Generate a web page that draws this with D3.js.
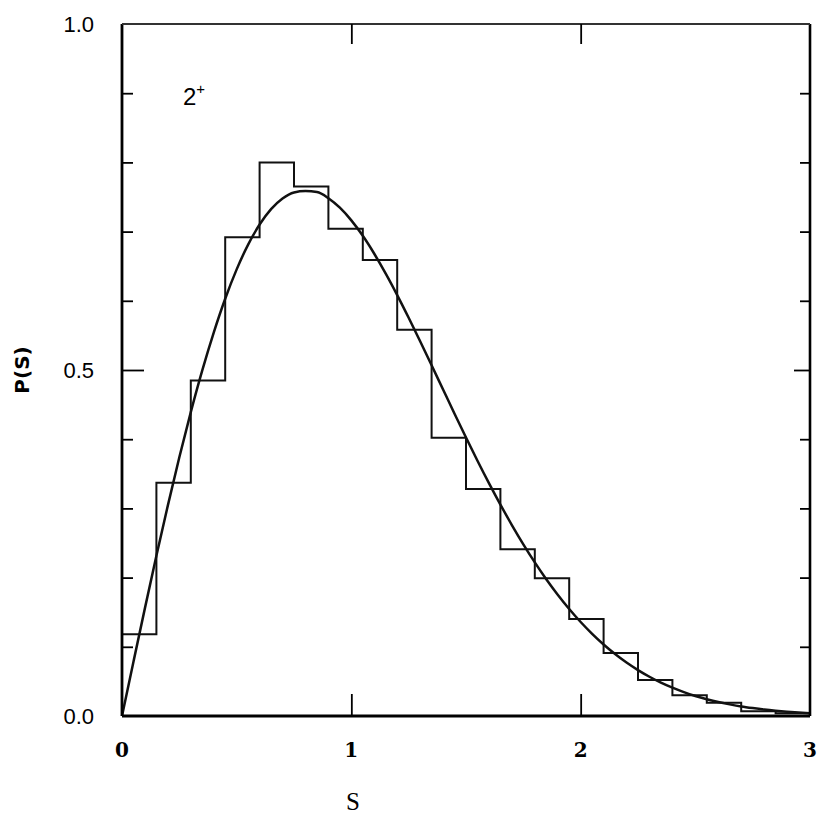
<!DOCTYPE html>
<html>
<head>
<meta charset="utf-8">
<script src="https://cdn.jsdelivr.net/npm/d3@7"></script>
<style>
  html, body { margin: 0; padding: 0; background: #fff; }
  svg { display: block; }
</style>
</head>
<body>
<svg id="chart" width="830" height="816"></svg>
<script>
// ---- data ----
const binEdges = [0, 0.15, 0.3, 0.45, 0.6, 0.75, 0.9, 1.05, 1.2, 1.35, 1.5, 1.65, 1.8, 1.95, 2.1, 2.25, 2.4, 2.55, 2.7, 2.85, 3.0];
const histValues = [0.118, 0.337, 0.485, 0.692, 0.800, 0.765, 0.704, 0.659, 0.558, 0.402, 0.328, 0.241, 0.199, 0.140, 0.091, 0.052, 0.030, 0.019, 0.007, 0.004];
const curveS = [0, 0.05, 0.1, 0.15, 0.2, 0.25, 0.3, 0.35, 0.4, 0.45, 0.5, 0.55, 0.6, 0.65, 0.7, 0.75, 0.8, 0.85, 0.9, 0.95,
  1.0, 1.05, 1.1, 1.15, 1.2, 1.25, 1.3, 1.35, 1.4, 1.45, 1.5, 1.55, 1.6, 1.65, 1.7, 1.75, 1.8, 1.85, 1.9, 1.95,
  2.0, 2.05, 2.1, 2.15, 2.2, 2.25, 2.3, 2.35, 2.4, 2.45, 2.5, 2.55, 2.6, 2.65, 2.7, 2.75, 2.8, 2.85, 2.9, 2.95, 3.0];
const curveP = [0, 0.0784, 0.1559, 0.2315, 0.3044, 0.3739, 0.4391, 0.4994, 0.5541, 0.6030, 0.6454, 0.6812, 0.7102, 0.7324, 0.7478, 0.7565, 0.7585, 0.7571, 0.7483, 0.7345,
  0.7162, 0.6939, 0.6680, 0.6393, 0.6083, 0.5755, 0.5415, 0.5068, 0.4718, 0.4369, 0.4025, 0.3689, 0.3365, 0.3055, 0.2760, 0.2481, 0.2220, 0.1977, 0.1753, 0.1546,
  0.1358, 0.1187, 0.1033, 0.0895, 0.0772, 0.0663, 0.0567, 0.0482, 0.0409, 0.0345, 0.0290, 0.0243, 0.0202, 0.0168, 0.0138, 0.0114, 0.0093, 0.0076, 0.0062, 0.0050, 0.0040];
const xTickValues = [0, 1, 2, 3];
const xTickLabels = ["0", "1", "2", "3"];
const yTickValues = [0, 0.5, 1.0];
const yTickLabels = ["0.0", "0.5", "1.0"];
const yMinorTicks = [0.1, 0.2, 0.3, 0.4, 0.6, 0.7, 0.8, 0.9];
const panelLabel = "2";
const panelSup = "+";

// ---- layout ----
const L = 122, R = 810, T = 24, B = 716;
const svg = d3.select("#chart");
const x = d3.scaleLinear().domain([0, 3]).range([L, R]);
const y = d3.scaleLinear().domain([0, 1]).range([B, T]);

// histogram step path
const stepPts = [[0, 0]];
histValues.forEach((v, i) => { stepPts.push([binEdges[i], v]); stepPts.push([binEdges[i + 1], v]); });
const line = d3.line().x(d => x(d[0])).y(d => y(d[1]));
svg.append("path").attr("d", line(stepPts))
  .attr("fill", "none").attr("stroke", "#111").attr("stroke-width", 2).attr("stroke-linejoin", "miter");

// curve
const curvePts = curveS.map((s, i) => [s, curveP[i]]);
svg.append("path").attr("d", d3.line().x(d => x(d[0])).y(d => y(d[1])).curve(d3.curveMonotoneX)(curvePts))
  .attr("fill", "none").attr("stroke", "#111").attr("stroke-width", 2.5);

// frame
svg.append("line").attr("x1", L).attr("x2", L).attr("y1", T).attr("y2", B).attr("stroke", "#000").attr("stroke-width", 2.8);
svg.append("line").attr("x1", L).attr("x2", R).attr("y1", B).attr("y2", B).attr("stroke", "#000").attr("stroke-width", 2.8);
svg.append("line").attr("x1", R).attr("x2", R).attr("y1", T).attr("y2", B).attr("stroke", "#000").attr("stroke-width", 2.6);
svg.append("line").attr("x1", L).attr("x2", R).attr("y1", T).attr("y2", T).attr("stroke", "#333").attr("stroke-width", 2.2);

// axes with d3 (inward ticks)
const xAxisB = d3.axisBottom(x).tickValues([1, 2]).tickSize(-22).tickFormat("");
const gxb = svg.append("g").attr("transform", `translate(0,${B})`).call(xAxisB);
const xAxisT = d3.axisTop(x).tickValues([1, 2]).tickSize(-20).tickFormat("");
const gxt = svg.append("g").attr("transform", `translate(0,${T})`).call(xAxisT);
const yAxisL = d3.axisLeft(y).tickValues(yMinorTicks).tickSize(-11).tickFormat("");
const gyl = svg.append("g").attr("transform", `translate(${L},0)`).call(yAxisL);
const yAxisLM = d3.axisLeft(y).tickValues([0.5]).tickSize(-22).tickFormat("");
const gylm = svg.append("g").attr("transform", `translate(${L},0)`).call(yAxisLM);
const yAxisR = d3.axisRight(y).tickValues(yMinorTicks).tickSize(-10).tickFormat("");
const gyr = svg.append("g").attr("transform", `translate(${R},0)`).call(yAxisR);
const yAxisRM = d3.axisRight(y).tickValues([0.5]).tickSize(-16).tickFormat("");
const gyrm = svg.append("g").attr("transform", `translate(${R},0)`).call(yAxisRM);
[gxb, gxt, gyl, gylm, gyr, gyrm].forEach(g => {
  g.select(".domain").remove();
  g.selectAll(".tick line").attr("stroke", "#000").attr("stroke-width", 1.8);
});

// tick labels
svg.append("g").selectAll("text").data(xTickValues).join("text")
  .attr("x", d => x(d)).attr("y", 757)
  .attr("text-anchor", "middle")
  .attr("font-family", "'DejaVu Serif', serif").attr("font-weight", "bold").attr("font-size", 20)
  .text((d, i) => xTickLabels[i]);
svg.append("g").selectAll("text").data(yTickValues).join("text")
  .attr("x", 94).attr("y", d => y(d) + 8)
  .attr("text-anchor", "end")
  .attr("font-family", "'Liberation Sans', Arial, sans-serif").attr("font-size", 22)
  .text((d, i) => yTickLabels[i]);

// axis titles
svg.append("text").attr("x", 353).attr("y", 810).attr("text-anchor", "middle")
  .attr("font-family", "'Liberation Serif', serif").attr("font-size", 25).text("S");
svg.append("text").attr("transform", "translate(29,370) rotate(-90)").attr("text-anchor", "middle")
  .attr("font-family", "'DejaVu Sans', sans-serif").attr("font-weight", "bold").attr("font-size", 20).text("P(S)");

// panel label
const pl = svg.append("text").attr("x", 183).attr("y", 105)
  .attr("font-family", "'Liberation Sans', Arial, sans-serif").attr("font-size", 24);
pl.append("tspan").text(panelLabel);
pl.append("tspan").attr("dy", -11).attr("font-size", 15).text(panelSup);
</script>
</body>
</html>
